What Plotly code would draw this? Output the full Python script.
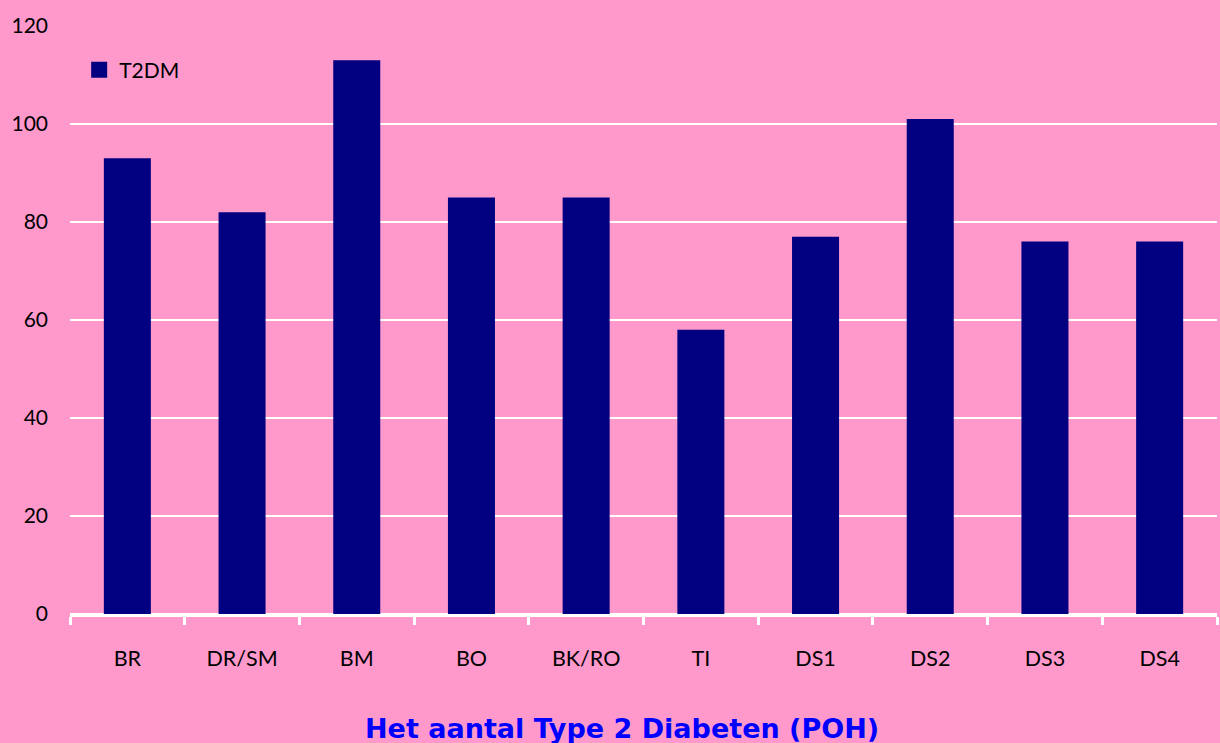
import plotly.graph_objects as go

categories = ["BR", "DR/SM", "BM", "BO", "BK/RO", "TI", "DS1", "DS2", "DS3", "DS4"]
t2dm = [93, 82, 113, 85, 85, 58, 77, 101, 76, 76]
series_name = "T2DM"
title_text = "Het aantal Type 2 Diabeten (POH)"

bg = "#FF99CC"
navy = "#000080"

fig = go.Figure()
fig.add_trace(go.Bar(x=categories, y=t2dm, name=series_name,
                     marker=dict(color=navy, line=dict(width=0)),
                     width=0.41, showlegend=False))
# legend entry with a larger square swatch
fig.add_trace(go.Scatter(x=[None], y=[None], mode="markers", name=series_name,
                         marker=dict(symbol="square", size=17, color=navy),
                         showlegend=True))

fig.add_annotation(text=title_text, xref="paper", yref="paper",
                   x=0.481, y=-0.194, xanchor="center", yanchor="middle",
                   showarrow=False,
                   font=dict(family="DejaVu Sans", size=27, color="#0000FF", weight="bold"))

fig.update_layout(
    width=1220, height=743,
    margin=dict(l=70, r=3, t=26, b=129),
    paper_bgcolor=bg, plot_bgcolor=bg,
    font=dict(family="Lato, Open Sans, sans-serif", size=21, color="#000000"),
    showlegend=True,
    legend=dict(x=0.008, y=0.925, xanchor="left", yanchor="middle",
                bgcolor="rgba(0,0,0,0)", font=dict(size=21), itemwidth=30,
                itemsizing="trace"),
    xaxis=dict(type="category", range=[-0.5, 9.5], tickson="boundaries",
               ticks="outside", ticklen=8, tickwidth=3, tickcolor="white",
               showline=True, linecolor="white", linewidth=3,
               showgrid=False, ticklabelstandoff=23,
               tickfont=dict(size=21.5)),
    yaxis=dict(range=[0, 120], dtick=20, showgrid=True, gridcolor="white", gridwidth=2,
               showline=False, zeroline=True, zerolinecolor="white", zerolinewidth=2,
               ticks="", ticklabelstandoff=21),
)

fig.write_html("out.html", config={"displayModeBar": False},
               post_script="document.body.style.margin='0px';document.body.style.background='#FF99CC';")
